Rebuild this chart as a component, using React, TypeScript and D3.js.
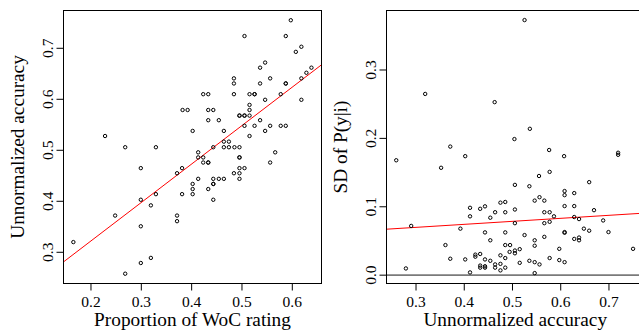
import React, { useRef, useEffect } from 'react';
import * as d3 from 'd3';

// Left panel: proportion of WoC rating vs unnormalized accuracy
const wocAccuracy: [number, number][] = [
  [0.228, 0.528], [0.268, 0.506], [0.329, 0.506], [0.299, 0.465], [0.381, 0.465],
  [0.382, 0.579], [0.392, 0.579], [0.402, 0.538], [0.423, 0.610], [0.433, 0.610],
  [0.433, 0.579], [0.443, 0.579], [0.433, 0.559], [0.454, 0.559], [0.443, 0.506],
  [0.413, 0.496], [0.413, 0.486], [0.423, 0.486], [0.423, 0.476], [0.433, 0.476],
  [0.433, 0.476], [0.464, 0.538], [0.464, 0.517], [0.474, 0.517], [0.464, 0.506],
  [0.474, 0.506], [0.485, 0.506], [0.495, 0.506], [0.484, 0.641], [0.484, 0.631],
  [0.484, 0.610], [0.495, 0.568], [0.495, 0.568], [0.505, 0.568], [0.505, 0.568],
  [0.505, 0.548], [0.505, 0.724], [0.495, 0.486], [0.495, 0.486], [0.495, 0.465],
  [0.505, 0.465], [0.515, 0.610], [0.515, 0.589], [0.515, 0.579], [0.515, 0.568],
  [0.515, 0.528], [0.525, 0.610], [0.525, 0.610], [0.525, 0.548], [0.536, 0.662],
  [0.536, 0.631], [0.536, 0.559], [0.546, 0.672], [0.546, 0.599], [0.546, 0.538],
  [0.556, 0.641], [0.556, 0.548], [0.556, 0.476], [0.566, 0.496], [0.577, 0.610],
  [0.577, 0.548], [0.587, 0.548], [0.587, 0.724], [0.587, 0.631], [0.587, 0.631],
  [0.597, 0.755], [0.607, 0.693], [0.618, 0.703], [0.618, 0.641], [0.618, 0.599],
  [0.628, 0.652], [0.638, 0.662], [0.165, 0.320], [0.248, 0.372], [0.299, 0.403],
  [0.299, 0.351], [0.299, 0.279], [0.319, 0.392], [0.319, 0.289], [0.329, 0.414],
  [0.268, 0.258], [0.371, 0.455], [0.371, 0.372], [0.371, 0.361], [0.381, 0.414],
  [0.402, 0.434], [0.402, 0.424], [0.402, 0.414], [0.413, 0.444], [0.433, 0.424],
  [0.443, 0.444], [0.443, 0.434], [0.443, 0.434], [0.443, 0.403], [0.454, 0.444],
  [0.464, 0.444], [0.484, 0.455], [0.495, 0.455], [0.495, 0.444],
];

// Right panel: unnormalized accuracy vs SD of P(y|i)
const accuracySd: [number, number][] = [
  [0.525, 0.373], [0.319, 0.265], [0.463, 0.253], [0.536, 0.214], [0.504, 0.199],
  [0.371, 0.188], [0.402, 0.174], [0.576, 0.183], [0.607, 0.174], [0.719, 0.176],
  [0.719, 0.179], [0.259, 0.168], [0.352, 0.157], [0.505, 0.132], [0.535, 0.130],
  [0.555, 0.145], [0.577, 0.151], [0.659, 0.136], [0.608, 0.123], [0.608, 0.117],
  [0.628, 0.120], [0.546, 0.109], [0.566, 0.109], [0.556, 0.114], [0.608, 0.101],
  [0.628, 0.101], [0.669, 0.095], [0.412, 0.0985], [0.443, 0.1006], [0.433, 0.097],
  [0.475, 0.106], [0.485, 0.107], [0.464, 0.092], [0.485, 0.092], [0.505, 0.096],
  [0.566, 0.092], [0.577, 0.092], [0.586, 0.086], [0.628, 0.085], [0.638, 0.082],
  [0.688, 0.080], [0.412, 0.086], [0.454, 0.084], [0.505, 0.076], [0.566, 0.076],
  [0.577, 0.078], [0.290, 0.072], [0.392, 0.068], [0.648, 0.068], [0.659, 0.065],
  [0.699, 0.063], [0.443, 0.0625], [0.485, 0.0625], [0.525, 0.0586], [0.566, 0.056],
  [0.608, 0.063], [0.608, 0.062], [0.628, 0.053], [0.638, 0.055], [0.638, 0.051],
  [0.454, 0.051], [0.546, 0.051], [0.361, 0.044], [0.485, 0.044], [0.495, 0.044],
  [0.546, 0.043], [0.494, 0.034], [0.505, 0.036], [0.505, 0.032], [0.515, 0.038],
  [0.597, 0.0385], [0.750, 0.0385], [0.423, 0.030], [0.423, 0.027], [0.433, 0.031],
  [0.475, 0.029], [0.371, 0.024], [0.402, 0.023], [0.443, 0.023], [0.454, 0.021],
  [0.485, 0.025], [0.577, 0.025], [0.597, 0.022], [0.608, 0.019], [0.535, 0.021],
  [0.546, 0.019], [0.556, 0.0157], [0.515, 0.018], [0.433, 0.014], [0.433, 0.011],
  [0.443, 0.013], [0.443, 0.011], [0.464, 0.0157], [0.464, 0.011], [0.475, 0.0165],
  [0.475, 0.007], [0.485, 0.011], [0.279, 0.0098], [0.412, 0.004], [0.546, 0.003],
];

const wocTicks = [0.2, 0.3, 0.4, 0.5, 0.6];
const accuracyTicks = [0.3, 0.4, 0.5, 0.6, 0.7];
const sdTicks = [0.0, 0.1, 0.2, 0.3];

// fitted lines (lm)
const wocFit = { intercept: 0.1715, slope: 0.754 };
const sdFit = { intercept: 0.0567, slope: 0.044 };

const FONT = '"Liberation Serif", "Times New Roman", serif';

type Scale = d3.ScaleLinear<number, number>;

interface PanelOpts {
  id: string;
  x: Scale;
  y: Scale;
  points: [number, number][];
  xTicks: number[];
  yTicks: number[];
  xTitle: string;
  yTitle: string;
  fit: { intercept: number; slope: number };
  zeroLine?: boolean;
}

const App: React.FC = () => {
  const svgRef = useRef<SVGSVGElement>(null);

  useEffect(() => {
    if (!svgRef.current) return;
    const svg = d3.select(svgRef.current);
    svg.selectAll('*').remove();
    const defs = svg.append('defs');
    const fmt = d3.format('.1f');

    const drawPanel = (o: PanelOpts) => {
      const [x0, x1] = o.x.range();
      const [yb, yt] = o.y.range();
      const g = svg.append('g');

      defs.append('clipPath').attr('id', o.id)
        .append('rect')
        .attr('x', x0).attr('y', yt)
        .attr('width', x1 - x0).attr('height', yb - yt);

      const plot = g.append('g').attr('clip-path', `url(#${o.id})`);

      if (o.zeroLine) {
        plot.append('line')
          .attr('x1', x0).attr('x2', x1)
          .attr('y1', o.y(0)).attr('y2', o.y(0))
          .attr('stroke', '#7a7a7a')
          .attr('stroke-width', 1.6);
      }

      const [d0, d1] = o.x.domain();
      plot.append('line')
        .attr('x1', o.x(d0)).attr('y1', o.y(o.fit.intercept + o.fit.slope * d0))
        .attr('x2', o.x(d1)).attr('y2', o.y(o.fit.intercept + o.fit.slope * d1))
        .attr('stroke', '#ff0000')
        .attr('stroke-width', 1);

      plot.selectAll('circle.pt')
        .data(o.points)
        .enter()
        .append('circle')
        .attr('class', 'pt')
        .attr('cx', d => o.x(d[0]))
        .attr('cy', d => o.y(d[1]))
        .attr('r', 1.7)
        .attr('fill', 'none')
        .attr('stroke', '#000')
        .attr('stroke-width', 1);

      // box
      g.append('rect')
        .attr('x', x0).attr('y', yt)
        .attr('width', x1 - x0).attr('height', yb - yt)
        .attr('fill', 'none')
        .attr('stroke', '#000')
        .attr('stroke-width', 1);

      // x axis
      const xa = g.append('g');
      xa.append('line')
        .attr('x1', o.x(o.xTicks[0])).attr('x2', o.x(o.xTicks[o.xTicks.length - 1]))
        .attr('y1', yb).attr('y2', yb)
        .attr('stroke', '#000');
      o.xTicks.forEach(t => {
        xa.append('line')
          .attr('x1', o.x(t)).attr('x2', o.x(t))
          .attr('y1', yb).attr('y2', yb + 7)
          .attr('stroke', '#000');
        xa.append('text')
          .attr('x', o.x(t))
          .attr('y', yb + 23.5)
          .attr('text-anchor', 'middle')
          .attr('font-family', FONT)
          .attr('font-size', '15.5px')
          .text(fmt(t));
      });
      xa.append('text')
        .attr('x', (x0 + Math.min(x1, 644)) / 2)
        .attr('y', yb + 42.5)
        .attr('text-anchor', 'middle')
        .attr('font-family', FONT)
        .attr('font-size', '19.3px')
        .text(o.xTitle);

      // y axis
      const ya = g.append('g');
      ya.append('line')
        .attr('x1', x0).attr('x2', x0)
        .attr('y1', o.y(o.yTicks[0])).attr('y2', o.y(o.yTicks[o.yTicks.length - 1]))
        .attr('stroke', '#000');
      o.yTicks.forEach(t => {
        ya.append('line')
          .attr('x1', x0 - 7).attr('x2', x0)
          .attr('y1', o.y(t)).attr('y2', o.y(t))
          .attr('stroke', '#000');
        ya.append('text')
          .attr('transform', `translate(${x0 - 10.5},${o.y(t)}) rotate(-90)`)
          .attr('text-anchor', 'middle')
          .attr('font-family', FONT)
          .attr('font-size', '15.5px')
          .text(fmt(t));
      });
      ya.append('text')
        .attr('transform', `translate(${x0 - 39.5},${(yb + yt) / 2}) rotate(-90)`)
        .attr('text-anchor', 'middle')
        .attr('font-family', FONT)
        .attr('font-size', '19.3px')
        .text(o.yTitle);
    };

    drawPanel({
      id: 'clip-left',
      x: d3.scaleLinear().domain([0.1454, 0.658]).range([63.5, 321.5]),
      y: d3.scaleLinear().domain([0.2388, 0.7741]).range([283.5, 10.5]),
      points: wocAccuracy,
      xTicks: wocTicks,
      yTicks: accuracyTicks,
      xTitle: 'Proportion of WoC rating',
      yTitle: 'Unnormalized accuracy',
      fit: wocFit,
    });

    drawPanel({
      id: 'clip-right',
      x: d3.scaleLinear().domain([0.2388, 0.7741]).range([386.5, 644.7]),
      y: d3.scaleLinear().domain([-0.0122, 0.387]).range([283.5, 10.5]),
      points: accuracySd,
      xTicks: accuracyTicks,
      yTicks: sdTicks,
      xTitle: 'Unnormalized accuracy',
      yTitle: 'SD of P(y|i)',
      fit: sdFit,
      zeroLine: true,
    });
  }, []);

  return (
    <svg
      ref={svgRef}
      width={639}
      height={331}
      style={{ position: 'absolute', left: 0, top: 0, background: '#fff' }}
    />
  );
};

export default App;
